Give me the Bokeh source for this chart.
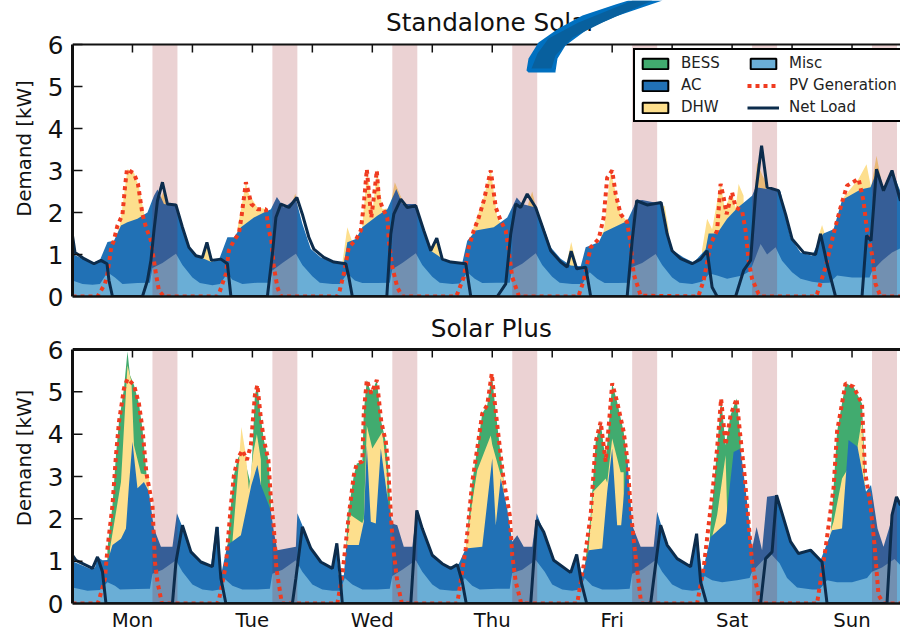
from bokeh.plotting import figure
from bokeh.embed import file_html
from bokeh.resources import INLINE
from bokeh.layouts import column
from bokeh.models import Legend, LegendItem, FixedTicker, PolyAnnotation, Label

day_labels = ["Mon", "Tue", "Wed", "Thu", "Fri", "Sat", "Sun"]
tick_hours = [12, 24, 36, 48, 60, 72, 84, 96, 108, 120, 132, 144, 156]
y_ticks = [0, 1, 2, 3, 4, 5, 6]
peak_starts = [16, 40, 64, 88, 112, 136, 160]
peak_ends = [21, 45, 69, 93, 117, 141, 165]

# ---------- Standalone Solar: stack tops in kW against hour of week
top_misc_h = [0,2,4,5.5,7,8.5,10,13,15.5,16,18,20.7,22,24,25.5,28,29.5,31,32,34,37,39.5,40,42,44.7,46,48,49.5,52,53.5,55,56.5,58,61,63.5,64,66,68.7,70,72,73.5,76,77.5,79,80.5,82,85,87.5,88,90,92.7,94,96,97.5,100,102,103.5,105,106.5,109,111.5,112,114,116.7,118,120,121.5,124,126,127.5,129,131,134,135.5,136,137.7,139,140.7,142,144,145.7,148,150,151.5,153,156,159.5,160,162,164,165.7]
top_misc_v = [.38,.3,.28,.3,.58,.45,.3,.32,.33,.68,.8,1.02,.75,.45,.32,.27,.3,.55,.4,.3,.33,.33,.62,.8,1.02,.75,.48,.33,.3,.3,.55,.38,.32,.32,.33,.65,.8,1.03,.75,.47,.33,.3,.31,.58,.42,.32,.33,.33,.65,.78,1.03,.75,.47,.33,.3,.3,.58,.42,.32,.32,.33,.7,.8,1.01,.75,.45,.33,.3,.36,.55,.5,.42,.5,.6,.72,1.25,1.0,1.17,.85,.58,.42,.35,.32,.33,.5,.45,.45,.6,.85,1.05,1.15]
top_ac_h = [0,2,4,5.5,7,8.3,9.7,11,13,15,16.3,17,18.3,20.7,22,23.3,25,26.3,27.7,29.3,31,32.3,33.7,36.3,38.3,39.7,40.9,42.3,44.7,46,47.7,49.7,52.3,54.3,55,56.7,58,61,63,64.8,66,68.7,70.3,71.7,73.7,75.7,78,79,80.7,84.3,87,88.9,90,92.7,94.3,95.7,97.7,99.7,101.7,102.7,105.3,106.3,111,112.9,114,118,119,119.7,122.3,124.3,126.7,127.3,129,131,133,136,136.7,139.7,141.7,142.7,143.7,145.7,148,149.7,150.3,152.3,154,157.7,159.7,161,162.3,164,165.7]
top_ac_v = [1.01,.9,.8,.87,1.3,1.33,1.69,1.77,1.85,2.0,2.4,2.55,2.2,2.16,1.65,1.17,.97,.9,.83,.87,1.41,1.41,1.65,1.88,2.0,2.08,2.37,2.12,2.32,1.73,1.13,.93,.82,.79,1.29,1.37,1.65,1.92,2.08,2.56,2.2,2.2,1.57,1.09,.93,.82,.8,1.33,1.57,1.65,1.88,2.36,2.2,2.12,1.65,1.17,.9,.74,.72,1.17,1.29,1.53,1.8,2.28,2.3,2.2,1.6,1.13,.93,.81,1.12,1.5,1.5,1.85,2.1,2.4,2.6,2.55,2.5,1.9,1.4,1.05,.97,1.4,1.5,1.6,2.3,2.55,2.6,3.0,2.5,3.0,2.5]
top_dhw_h = [0,8.4,8.5,9.5,11,12.3,13.3,14.3,14.4,17.4,17.5,18.2,18.8,18.9,25.8,25.9,27,28.2,28.3,32.9,33,34.7,35.3,37,39,39.1,43.7,43.8,44.6,45.5,45.6,53.9,54,55,56,56.1,57.9,58,59,60,61,62,63.5,64.5,66,66.1,71.4,71.5,72.7,74,74.1,79.9,80,82.3,83.7,85,86,86.1,91.1,91.2,92,92.8,92.9,98.8,98.9,99.8,100.9,101,105.7,105.8,106.3,107.7,109.7,111,111.1,116.9,117,118.5,119.3,119.4,125.9,126,127,128,129.7,130.5,132,132.7,133.3,134.3,134.4,136.4,136.5,137,138,139.5,141.5,142.5,142.6,149.1,149.2,150,150.8,150.9,152.9,153,154.3,157.3,158.9,159.8,160.9,162.3,163.5,164,165.7]
top_dhw_v = [.3,.3,1.3,1.7,3.03,2.95,2.6,2.0,.3,.3,2.3,2.5,2.2,.3,.3,.8,1.3,.8,.3,.3,1.6,2.72,2.44,2.12,2.08,.3,.3,2.2,2.45,1.8,.3,.3,.8,1.65,1.3,.3,.3,1.7,3.03,2.0,3.03,2.08,2.1,2.72,2.3,.3,.3,1.0,1.37,.9,.3,.3,1.55,2.36,3.03,1.88,1.7,.3,.3,2.2,2.5,2.1,.3,.3,.8,1.3,.75,.3,.3,1.5,1.55,3.0,1.96,1.8,.3,.3,2.2,2.15,1.6,.3,.3,1.12,1.85,1.6,2.72,2.1,2.48,2.1,2.68,2.4,.3,.3,2.5,3.2,2.9,2.55,2.5,2.1,.3,.3,1.4,1.7,1.4,.3,.3,1.7,2.36,2.8,3.15,2.6,3.35,2.5,2.6,2.95,2.5]
top_pv_h = [0,5,5.5,6.5,7,7.8,8.2,9,10,10.5,10.9,12.3,13.1,14,14.7,15.7,16.2,16.7,17.3,18.3,29,29.3,30.7,31.3,32.3,33.3,33.8,34.7,35.3,35.8,37,38.7,39.3,39.8,40.3,41,41.7,53,53.3,54.3,55.3,56.7,57.7,58.3,58.9,59.3,59.8,60.3,60.9,61.3,62,63,63.3,64,65,66,76.7,77,78.3,79.3,80.3,81.3,82.3,83.7,84.7,85.7,86.7,87.3,88,89.3,90,101,101.3,102.3,103.7,105.3,106.3,107,108,108.7,109.7,111,111.7,112.3,113.7,125,125.3,126.3,127.7,129,129.7,130.3,130.9,132,132.7,134,134.7,135.3,136,137.3,138,148.7,149,150.7,152.3,153.7,155,157.3,158.3,159,160,160.7,161.7,165.7]
top_pv_v = [0,0,.1,.3,.55,1.2,1.3,1.69,1.95,2.6,3.03,2.93,2.68,1.96,1.65,1.33,.93,.54,.14,0,0,.06,.54,1.1,1.33,1.5,1.88,2.72,2.44,2.2,2.08,2.08,1.57,1.33,.7,.22,0,0,.06,.54,1.17,1.35,1.57,2.2,3.03,2.5,1.88,2.36,3.0,2.36,2.12,1.88,1.33,.7,.22,0,0,.06,.46,1.17,1.57,1.88,2.28,3.0,2.12,1.8,1.57,1.1,.46,.02,0,0,.02,.38,1.17,1.37,1.88,2.83,3.0,2.44,1.96,1.77,1.25,.54,.02,0,.02,.38,1.25,1.57,2.68,2.36,1.96,2.48,2.12,2.04,1.57,.86,.42,.06,0,0,.06,.7,1.49,2.12,2.64,2.8,2.28,1.57,1.01,.3,0,0]
top_net_h = [0,.5,2.3,4.3,5.7,6.9,7.3,8,14,15,15.7,16.3,17,18,19,20.7,22,23.3,24.7,26,26.9,27.8,29.7,31,31.7,39,40,40.7,41.7,43.3,44.9,46,47.3,48.3,50.3,52.3,54.7,55.3,56,62.9,63.7,64.3,65.7,67,68.7,70.3,71.7,72.9,74,75.7,78.7,79.7,85,86.7,87.7,88.7,89.7,91,92.7,94.3,95.7,97.7,99,99.8,100.9,102.7,103.7,111,112,112.9,115,117.8,119,120,121.7,124,125.7,127,128,129,132.7,134.3,135.7,136.7,137.9,139,141.3,142.7,144,146.3,148.7,149.7,151,152.7,158,158.9,159.8,160.9,162.3,164,165.7]
top_net_v = [1.45,1.05,.9,.78,.86,.78,.38,0,0,.38,.86,1.57,2.28,2.72,2.2,2.18,1.65,1.17,.97,.93,1.29,.86,.89,.78,0,0,1.01,1.88,2.2,2.12,2.36,1.96,1.41,1.13,.93,.82,.78,.46,0,0,1.49,1.96,2.32,2.12,2.16,1.57,1.09,1.39,.89,.82,.78,0,0,.3,1.49,2.2,2.12,2.44,2.12,1.57,1.09,.82,.7,1.08,.66,.7,0,0,1.33,2.28,2.18,2.24,1.49,1.09,.9,.78,.89,1.09,.22,0,0,.62,.86,2.44,3.59,2.6,2.52,1.96,1.37,1.05,1.0,1.49,.78,0,0,1.45,1.33,3.03,2.52,3.0,2.28]

# ---------- Solar Plus
bot_misc_h = [0,3,5.5,7,8.5,9.5,13,15.5,16,18,20.7,22,24,26,28,29.5,30.5,32,34,37,39.5,40,42,44.7,46,48,50,52,53.5,54.5,56,58,61,63.5,64,66,68.7,70,72,73.5,76,77,78.5,80,81.5,85,87.5,88,90,92.7,94.5,96,98,100,101.5,102.5,104,106,109,111.5,112,114,116.7,118,120,122,124,125.5,126.5,128,130,133,135.5,136,138,139.7,141.5,143,145,148,149.5,151,153,156,159,160,162,164.5,165.7]
bot_misc_v = [.38,.3,.32,.5,.42,.33,.34,.35,.7,.8,1.02,.75,.45,.33,.3,.33,.58,.42,.33,.33,.35,.7,.8,1.02,.75,.45,.33,.3,.3,.6,.45,.33,.33,.35,.65,.8,1.02,.75,.45,.33,.3,.3,.6,.42,.33,.35,.35,.72,.8,1.03,.75,.45,.33,.3,.33,.6,.42,.33,.33,.35,.7,.8,1.03,.75,.45,.33,.3,.32,.65,.55,.5,.55,.6,.75,1.0,1.18,.95,.6,.38,.33,.33,.55,.5,.5,.6,.75,.85,1.05,.9]
bot_ac_h = [0,3.5,4.5,5,6,7.1,8,9.7,10.7,11.3,12,13,14.3,15.3,16.3,17.7,20,20.9,22,23.7,25.7,27.7,28.7,29.3,29.7,31,33.7,35.3,35.8,37,37.7,39.7,40.3,41,44.7,45,46,47.7,49.7,52,52.7,53.3,54.3,54.8,57.3,58.3,58.9,59.7,60.7,61.7,63,64,65,66.3,68,68.9,70,72,74,75.7,77.3,78.7,82,84,84.7,85.7,87,88,89,90.3,92,92.9,94.3,96.3,99.7,100.9,102,103.3,106,107,108,109,109.8,111,112,113.7,116.3,117,119,121,123.7,124.9,126,127.7,130.7,132.3,133.7,135,136,136.9,138,139,141,143.7,145.3,147.7,149.7,152,154,155.3,157.1,158.8,159.8,161.1,162.3,164,165,165.7]
bot_ac_v = [1.0,.82,.85,1.1,1.02,1.03,1.38,1.53,1.77,2.8,3.82,2.72,2.87,2.64,1.77,1.34,1.34,2.13,1.81,1.22,.98,.87,1.81,1.81,.67,1.38,1.61,2.52,2.8,3.27,2.8,2.2,1.69,1.26,1.34,2.13,1.85,1.3,.98,.83,1.42,.67,.67,1.38,1.38,1.93,3.74,1.93,1.89,3.66,2.52,1.89,1.85,1.34,1.34,2.2,1.77,1.14,.94,.83,.94,1.3,1.34,3.43,1.85,2.95,2.24,1.46,1.61,1.34,1.34,2.13,1.69,1.02,.71,1.18,.67,1.26,1.3,2.64,3.66,1.85,1.85,3.43,1.85,1.34,1.34,2.17,1.38,1.06,.87,1.65,.71,1.57,1.89,3.58,3.66,2.4,1.3,1.81,1.26,2.52,2.56,1.46,1.18,1.26,1.02,1.73,1.77,3.86,3.7,2.64,2.8,1.77,1.34,2.0,2.52,2.32]
bot_dhw_h = [0,7.4,7.5,9.7,11,11.8,12.3,13.7,15.3,15.4,31.7,32,33.3,33.8,34.7,35.3,36.2,36.9,37.7,37.8,54.8,54.9,55.5,58,58.3,58.9,60,62,63,63.1,78.6,78.7,80,81,83.7,84,85.7,86.3,86.4,103.2,103.3,104.2,106.7,107,108,109.7,110.3,110.4,127.9,128,129,130.7,131,131.1,151.6,151.7,152.3,154,156.3,157.1,158,158.6,158.7]
bot_dhw_v = [.3,.3,1.3,2.87,5.63,5.24,3.74,3.07,3.03,.3,.3,1.46,3.35,4.17,3.5,2.7,3.58,4.0,3.4,.3,.3,1.38,2.1,1.9,2.0,4.2,3.66,4.05,3.0,.3,.3,1.34,2.4,3.15,3.97,3.75,3.03,2.95,.3,.3,1.3,2.64,2.95,2.85,3.9,3.1,3.1,.3,.3,1.57,2.09,3.5,2.17,.3,.3,1.7,1.93,2.95,3.4,3.7,4.37,2.87,.3]
bot_bess_h = [0,6.9,7,8,8.7,9.3,10.3,11,11.5,12.3,13.3,14,14.8,15,30.5,30.7,31.7,32.3,33.1,34,35.7,36.5,37,37.7,38.3,39.2,39.7,39.8,54.5,55,56.3,56.9,58,58.3,58.9,59.8,60.9,61.8,62.7,63.1,63.8,63.9,78.6,78.7,80,81,82,83,83.9,84.7,85.7,86.3,86.4,102,103.7,104.7,105.7,106.7,107.6,108,109,110.3,111,111.8,111.9,127,127.7,129,129.8,130.7,131.7,132.9,133.7,133.8,151,152.3,153,154.7,156.3,158,158.6,158.7]
bot_bess_v = [.3,.3,1.3,2.32,3.5,4.29,5.08,5.95,5.4,5.16,4.72,4.13,3.07,.3,.3,.91,2.32,3.03,3.43,3.62,2.8,4.92,5.16,4.37,3.86,3.39,2.48,.3,.3,2.0,3.03,3.31,3.35,4.53,5.28,4.96,5.28,4.29,3.82,3.35,1.93,.3,.3,1.3,2.87,3.66,4.49,4.69,5.43,4.53,3.5,2.91,.3,.3,2.09,3.82,4.29,3.35,4.6,5.2,4.76,4.06,3.43,2.09,.3,.3,1.9,3.66,4.84,3.74,4.45,4.84,3.9,.3,.3,2.72,4.06,5.2,5.12,4.72,3.11,.3]
bot_pv_h = [0,5,5.3,6.5,7,8,8.7,9.3,10.3,11,12.3,13.3,14,14.8,16,16.5,17,17.9,29,29.3,30.7,31.7,32.3,33.1,34,34.9,35.7,36.5,37,37.7,38.3,39.2,39.7,40.3,40.8,41.9,53,54,55.3,56.3,56.9,58,58.3,58.9,59.8,60.9,61.8,62.7,63.1,63.8,64.2,65,65.9,77,78.7,80,81,82,83,83.9,84.7,85.7,86.3,87.5,88,88.7,89.8,101,102.3,103.7,104.7,105.7,106.7,107.6,108,109,110.3,111,111.8,112.5,113.8,125,126.3,128,129,129.8,130.7,131.7,132.9,133.7,134.5,135.4,136,136.7,137.7,149,150.7,152.3,153,154.7,156.3,158,158.6,159.7,160.5,161.3,162.3,165.7]
bot_pv_v = [0,0,.08,.59,1.3,2.32,3.5,4.29,5.08,5.31,5.16,4.72,4.13,3.07,2.32,.98,.51,0,0,.08,.91,2.32,3.03,3.43,3.62,3.39,3.74,4.92,5.16,4.37,3.86,3.39,2.48,1.77,.83,0,0,.67,2.09,3.03,3.31,3.35,4.53,5.28,4.96,5.28,4.29,3.82,3.35,1.93,1.3,.51,0,0,1.3,2.87,3.66,4.49,4.69,5.43,4.53,3.5,2.91,2.09,1.14,.51,0,0,.91,2.09,3.82,4.29,3.35,4.6,5.2,4.76,4.06,3.43,2.09,1.3,0,0,.83,2.56,3.66,4.84,3.74,4.45,4.84,3.9,3.03,1.77,.98,.51,0,0,1.3,2.72,4.06,5.2,5.12,4.72,3.11,2.32,1.38,.2,0,0]
bot_net_h = [0,.7,4,5,6,6.7,20,20.7,22,23.7,25.7,28,28.9,29.7,30.7,44,44.7,46,47.7,49.7,52,52.9,53.5,54,67.7,68.9,70,72,74,75.7,77,78,78.8,91.7,92.9,94.3,96.3,99.7,100.9,101.8,102.9,115.7,117.7,119,121,123.7,124.9,125.7,126.9,137.7,138.7,140,140.9,143.7,145.3,147.7,150,151,163,164,164.9,165.7]
bot_net_v = [1.14,1.02,.83,1.1,.75,0,0,.98,1.85,1.22,.98,.87,1.81,.59,0,0,.59,1.81,1.3,.98,.83,1.42,.71,0,0,2.2,1.77,1.14,.94,.83,.92,.51,0,0,1.97,1.69,1.02,.73,1.16,.51,0,0,1.85,1.38,1.06,.87,1.65,.51,0,0,1.06,1.22,2.56,1.46,1.18,1.26,.98,0,0,2.09,2.52,2.32]

# ---------- overlay swoosh outline, in pixels of the page
swoosh_outer_x = [526, 528, 538, 558, 582, 615, 628, 662, 615, 588, 565, 557, 555, 555, 528]
swoosh_outer_y = [70, 58, 42, 28, 15, 4, 0, 0, 16, 28, 45, 58, 71, 72, 72]
swoosh_inner_x = [531, 537, 548, 578, 632, 652, 602, 572, 555, 551]
swoosh_inner_y = [68, 53, 38, 22, 0, 0, 22, 37, 55, 68]

C_BESS, C_AC, C_DHW, C_MISC = "#41ab6f", "#2171b5", "#fddf8d", "#6aaed6"
C_PV, C_NET, C_PEAK = "#f03b20", "#0c2c4c", "#961016"
FONT = "DejaVu Sans"


def panel(title, height, frame_top, frame_bottom, title_y, spine_w, layers, pv, net, labels):
    px_kw = (frame_bottom - frame_top) / 6
    p = figure(width=900, height=height, x_range=(0, 165.7), y_range=(0, frame_bottom / px_kw),
               output_backend="svg", toolbar_location=None,
               min_border_left=72, min_border_right=0,
               min_border_top=0, min_border_bottom=height - frame_bottom)
    for (hrs, tops, color) in layers:
        p.varea(x=hrs, y1=[0] * len(hrs), y2=tops, fill_color=color, fill_alpha=1)
    p.quad(left=peak_starts, right=peak_ends, bottom=[0] * 7, top=[6] * 7,
           fill_color=C_PEAK, fill_alpha=0.19, line_color=None)
    pv_r = p.line(pv[0], pv[1], line_color=C_PV, line_width=4, line_dash="4 4")
    net_r = p.line(net[0], net[1], line_color=C_NET, line_width=3)
    # spine and ticks that the upper part of the frame needs
    p.segment(x0=[0], x1=[165.7], y0=[6], y1=[6], line_color="#111111", line_width=spine_w)
    p.segment(x0=tick_hours, x1=tick_hours, y0=[6] * 13, y1=[6 - 8 / px_kw] * 13,
              line_color="#111111", line_width=1.5)
    p.segment(x0=[0] * 6, x1=[2] * 6, y0=y_ticks[1:], y1=y_ticks[1:],
              line_color="#111111", line_width=1.5)
    p.outline_line_color = None
    p.xgrid.visible = False
    p.ygrid.visible = False
    a = p.xaxis[0]
    a.ticker = FixedTicker(ticks=tick_hours)
    a.major_tick_in, a.major_tick_out = 0, 0
    a.minor_tick_line_color = None
    a.axis_line_width = 2.5
    a.axis_line_color = "#111111"
    a.major_label_overrides = ({h: (labels[i // 2] if i % 2 == 0 else "")
                                for i, h in enumerate(tick_hours)} if labels
                               else {h: "" for h in tick_hours})
    a.major_label_text_font = FONT
    a.major_label_text_font_size = "19.7px"
    a.major_label_text_color = "#111111"
    a.major_label_standoff = 5
    y = p.yaxis[0]
    y.ticker = FixedTicker(ticks=y_ticks)
    y.bounds = (0, 6)
    y.major_tick_in, y.major_tick_out = 0, 0
    y.minor_tick_line_color = None
    y.axis_line_width = 3
    y.axis_line_color = "#111111"
    y.major_label_text_font = FONT
    y.major_label_text_font_size = "24.7px"
    y.major_label_text_color = "#111111"
    y.major_label_standoff = 9
    y.axis_label = "Demand [kW]"
    y.axis_label_text_font = FONT
    y.axis_label_text_font_style = "normal"
    y.axis_label_text_font_size = "19.8px"
    y.axis_label_text_color = "#111111"
    y.axis_label_standoff = 9
    p.add_layout(Label(x=83.8, y=(frame_bottom - title_y) / px_kw, text=title, text_align="center",
                       text_baseline="middle", text_font=FONT, text_font_size="24.7px",
                       text_color="#111111"))
    return p, pv_r, net_r


top, pv_t, net_t = panel(
    "Standalone Solar", 312, 44, 296, 22, 2,
    [(top_dhw_h, top_dhw_v, C_DHW), (top_ac_h, top_ac_v, C_AC), (top_misc_h, top_misc_v, C_MISC)],
    (top_pv_h, top_pv_v), (top_net_h, top_net_v), None)
bottom, _, _ = panel(
    "Solar Plus", 322, 37, 291, 16, 3,
    [(bot_bess_h, bot_bess_v, C_BESS), (bot_dhw_h, bot_dhw_v, C_DHW), (bot_ac_h, bot_ac_v, C_AC), (bot_misc_h, bot_misc_v, C_MISC)],
    (bot_pv_h, bot_pv_v), (bot_net_h, bot_net_v), day_labels)

nan = float("nan")
swatches = [top.quad(left=[nan], right=[nan], bottom=[nan], top=[nan], fill_color=c,
                     line_color="black", line_width=2)
            for c in (C_BESS, C_AC, C_DHW, C_MISC)]
legend = Legend(items=[LegendItem(label="BESS", renderers=[swatches[0]]),
                       LegendItem(label="AC", renderers=[swatches[1]]),
                       LegendItem(label="DHW", renderers=[swatches[2]]),
                       LegendItem(label="Misc", renderers=[swatches[3]]),
                       LegendItem(label="PV Generation", renderers=[pv_t]),
                       LegendItem(label="Net Load", renderers=[net_t])],
                location=(561, 174), nrows=3, orientation="vertical",
                glyph_width=32, glyph_height=13, label_height=15, label_width=62,
                label_standoff=10, spacing=4, padding=4, margin=0,
                label_text_font=FONT, label_text_font_size="15px", label_text_color="#222222",
                border_line_color="black", border_line_width=2.5, border_line_alpha=1,
                background_fill_alpha=1, background_fill_color="white")
top.add_layout(legend, "center")

for xs, ys, c in ((swoosh_outer_x, swoosh_outer_y, "#0070c0"), (swoosh_inner_x, swoosh_inner_y, "#08609e")):
    top.add_layout(PolyAnnotation(xs=xs, ys=ys, xs_units="canvas", ys_units="canvas",
                                  fill_color=c, fill_alpha=1, line_color=None))

page = column(top, bottom, spacing=0)
open("out.html", "w").write(file_html(page, INLINE))
